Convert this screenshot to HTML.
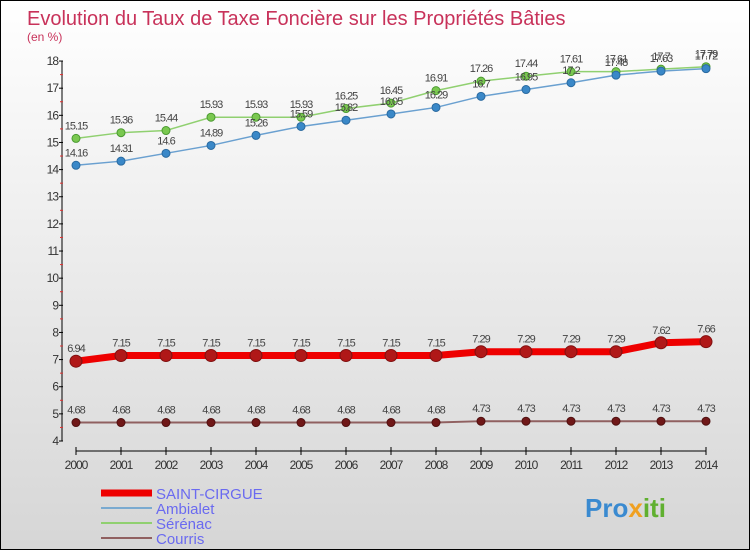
<!DOCTYPE html>
<html><head><meta charset="utf-8"><style>
body{margin:0}
#c{position:relative;width:748px;height:548px;border:1px solid #000;background:linear-gradient(#ffffff,#d6d6d6);font-family:"Liberation Sans",sans-serif;overflow:hidden}
</style></head><body>
<div id="c">
<svg id="s" width="748" height="548" xmlns="http://www.w3.org/2000/svg">
<text x="26" y="24" font-size="20" fill="#c8325a">Evolution du Taux de Taxe Foncière sur les Propriétés Bâties</text>
<text x="26" y="40" font-size="12" fill="#c8325a">(en %)</text>
<g id="axes"></g><g id="series"></g>
<g>
<line x1="100" y1="492" x2="151" y2="492" stroke="#ee0000" stroke-width="7"/>
<text x="155" y="498" font-size="15" fill="#6a6af0">SAINT-CIRGUE</text>
<line x1="100" y1="507" x2="151" y2="507" stroke="#7aaad0" stroke-width="2"/>
<text x="155" y="513" font-size="15" fill="#6a6af0">Ambialet</text>
<line x1="100" y1="522" x2="151" y2="522" stroke="#90d070" stroke-width="2"/>
<text x="155" y="528" font-size="15" fill="#6a6af0">Sérénac</text>
<line x1="100" y1="537" x2="151" y2="537" stroke="#906060" stroke-width="2"/>
<text x="155" y="543" font-size="15" fill="#6a6af0">Courris</text>
</g>
<text x="584" y="516" font-size="26" font-weight="bold" fill="#3a8ad0">Pro<tspan fill="#f0a020">x</tspan><tspan fill="#60b030">iti</tspan></text>
</svg>
</div>
<script>
const years=[2000,2001,2002,2003,2004,2005,2006,2007,2008,2009,2010,2011,2012,2013,2014];
const saintCirgue=[6.94,7.15,7.15,7.15,7.15,7.15,7.15,7.15,7.15,7.29,7.29,7.29,7.29,7.62,7.66];
const ambialet=[14.16,14.31,14.6,14.89,15.26,15.59,15.82,16.05,16.29,16.7,16.95,17.2,17.48,17.63,17.72];
const serenac=[15.15,15.36,15.44,15.93,15.93,15.93,16.25,16.45,16.91,17.26,17.44,17.61,17.61,17.7,17.79];
const courris=[4.68,4.68,4.68,4.68,4.68,4.68,4.68,4.68,4.68,4.73,4.73,4.73,4.73,4.73,4.73];
const yTicks=[4,5,6,7,8,9,10,11,12,13,14,15,16,17,18];
const NS="http://www.w3.org/2000/svg";
const X=i=>75+i*45;
const Y=v=>440-(v-4)*27.14;
function mk(t,a,p){const e=document.createElementNS(NS,t);for(const k in a)e.setAttribute(k,a[k]);p.appendChild(e);return e;}
const ax=document.getElementById('axes');
let l=mk('line',{x1:61,y1:Y(18),x2:61,y2:Y(4),stroke:'#000'},ax);


l=mk('line',{x1:X(0),y1:450,x2:X(14),y2:450,stroke:'#000'},ax);


yTicks.forEach((v,i)=>{
 mk('line',{x1:58,y1:Y(v),x2:62,y2:Y(v),stroke:'#000'},ax);
 if(i<yTicks.length-1)mk('line',{x1:59,y1:Y(v+0.5),x2:62,y2:Y(v+0.5),stroke:'#e03030'},ax);
 const t=mk('text',{x:57,y:Y(v)+4,'text-anchor':'end','font-size':12,fill:'#333','letter-spacing':'-1'},ax);
 t.textContent=v;
 
 
});
years.forEach((yr,i)=>{
 mk('line',{x1:X(i),y1:446,x2:X(i),y2:454,stroke:'#000'},ax);
 const t=mk('text',{x:X(i),y:468,'text-anchor':'middle','font-size':12,fill:'#333','letter-spacing':'-1'},ax);
 t.textContent=yr;
 
 
});
const sg=document.getElementById('series');
function series(name,vals,color,w,fill,dot,r){
 const g=mk('g',{},sg);
 
 
 const p=mk('polyline',{points:vals.map((v,i)=>X(i)+','+Y(v)).join(' '),fill:'none',stroke:color,'stroke-width':w},g);
 
 
 vals.forEach((v,i)=>{
  const c=mk('circle',{cx:X(i),cy:Y(v),r:r,fill:fill,stroke:dot,'stroke-width':1},g);
  
  
  const t=mk('text',{x:X(i),y:Y(v)-9,'text-anchor':'middle','font-size':11,fill:'#444','letter-spacing':'-1'},g);
  t.textContent=String(v);
  
  
 });
}
series('serenac',serenac,'#90d070',1.5,'#7ac850','#4a9a30',4);
series('ambialet',ambialet,'#6aa0d0',1.5,'#3a88c8','#2a6aa0',4);
series('saint-cirgue',saintCirgue,'#ee0000',7,'#b01818','#801010',6);
series('courris',courris,'#906060',2,'#701818','#501010',4);
</script>
</body></html>
